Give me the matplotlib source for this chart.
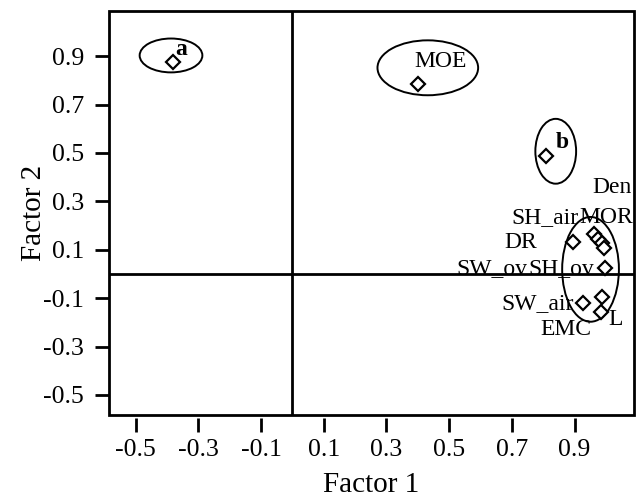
import matplotlib
matplotlib.use("Agg")
import matplotlib.pyplot as plt
from matplotlib.patches import Ellipse, Rectangle

plt.rcParams['font.family'] = ['Liberation Serif', 'DejaVu Serif']

labels = ['a', 'MOE', 'b', 'DR', 'SH_air', 'MOR', 'Den', 'SH_ov', 'SW_ov', 'SW_air', 'L', 'EMC']
factor1 = [-0.38, 0.40, 0.81, 0.895, 0.962, 0.975, 0.987, 0.997, 0.994, 0.927, 0.987, 0.984]
factor2 = [0.875, 0.784, 0.487, 0.132, 0.165, 0.144, 0.128, 0.025, 0.107, -0.12, -0.095, -0.157]

# label text positions (data coords)
label_x = [-0.356, 0.473, 0.860, 0.727, 0.806, 1.0, 1.019, 0.857, 0.635, 0.781, 1.032, 0.873]
label_y = [0.928, 0.878, 0.544, 0.128, 0.235, 0.235, 0.359, 0.021, 0.021, -0.124, -0.19, -0.231]
bold = ['a', 'b']

# group ellipses: center x, center y, width, height
ell_cx = [-0.387, 0.432, 0.840, 0.951]
ell_cy = [0.903, 0.852, 0.507, 0.019]
ell_w = [0.20, 0.321, 0.13, 0.181]
ell_h = [0.14, 0.227, 0.268, 0.433]

xticks = [-0.5, -0.3, -0.1, 0.1, 0.3, 0.5, 0.7, 0.9]
yticks = [0.9, 0.7, 0.5, 0.3, 0.1, -0.1, -0.3, -0.5]

fig = plt.figure(figsize=(6.37, 4.97), dpi=100)
ax = fig.add_axes([0.171, 0.165, 0.824, 0.813])
ax.set_xlim(-0.585, 1.089)
ax.set_ylim(-0.583, 1.087)

for s in ax.spines.values():
    s.set_visible(False)
ax.spines['bottom'].set_position(('outward', 2))
ax.add_patch(Rectangle((0, 0), 1, 1, transform=ax.transAxes, fill=False,
                       lw=2, ec='black', clip_on=False, zorder=5))

ax.axvline(0, color='black', lw=2)
ax.axhline(0, color='black', lw=2)

ax.plot(factor1, factor2, linestyle='none', marker='D', ms=7, mfc='white',
        mec='black', mew=1.6, zorder=4)

for lab, tx, ty in zip(labels, label_x, label_y):
    ax.text(tx, ty, lab, fontsize=17,
            fontweight='bold' if lab in bold else 'normal',
            ha='center', va='center', zorder=6)

for cx, cy, w, h in zip(ell_cx, ell_cy, ell_w, ell_h):
    ax.add_patch(Ellipse((cx, cy), w, h, fill=False, ec='black', lw=1.4, zorder=3))

ax.set_xticks(xticks)
ax.set_xticklabels([f'{v:.1f}' for v in xticks])
ax.set_yticks(yticks)
ax.set_yticklabels([f'{v:.1f}' for v in yticks])
ax.tick_params(axis='both', direction='out', length=10, width=2, labelsize=18.5)
ax.tick_params(axis='x', pad=5)
ax.tick_params(axis='y', pad=8)

ax.set_xlabel('Factor 1', fontsize=21, labelpad=8)
ax.set_ylabel('Factor 2', fontsize=21, labelpad=-3)

fig.savefig('out.png', dpi=100)
